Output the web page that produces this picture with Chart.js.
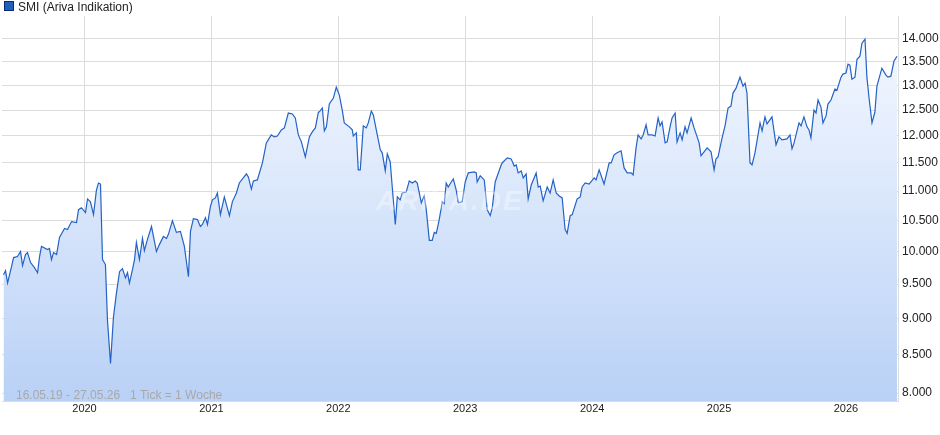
<!DOCTYPE html>
<html>
<head>
<meta charset="utf-8">
<script src="https://cdn.jsdelivr.net/npm/chart.js@4/dist/chart.umd.min.js"></script>
<style>
  body { margin: 0; background: #fff; }
  #wrap { position: relative; width: 940px; height: 435px; }
  #legend { position: absolute; left: 4px; top: 0px; font: 12px Arial, "Liberation Sans", sans-serif; color: #222; }
  #legend span { display: inline-block; width: 8px; height: 8px; background: #1f5fc4; border: 1px solid #0b2c66; margin-right: 4px; vertical-align: -0px; }
  #note { position: absolute; left: 16px; top: 388px; font: 12px Arial, "Liberation Sans", sans-serif; color: #a8a8a8; }
  #mark { position: absolute; left: 376px; top: 185px; font: italic bold 28px Arial, sans-serif; color: rgba(255,255,255,0.35); letter-spacing: 2px; }
</style>
</head>
<body>
<div id="wrap">
  <canvas id="c" width="940" height="435"></canvas>
  <div id="legend"><span></span>SMI (Ariva Indikation)</div>
  <div id="mark">ARIVA.DE</div>
  <div id="note">16.05.19 - 27.05.26 &nbsp;&nbsp;1 Tick = 1 Woche</div>
</div>
<script>
// Time (decimal years) and SMI level
const times = [
  2019.362, 2019.378, 2019.394, 2019.425, 2019.441, 2019.472, 2019.496, 2019.512, 2019.535, 2019.551,
  2019.575, 2019.606, 2019.630, 2019.646, 2019.661, 2019.709, 2019.724, 2019.740, 2019.756, 2019.780,
  2019.803, 2019.843, 2019.866, 2019.898, 2019.937, 2019.953, 2019.976, 2020.008, 2020.024, 2020.047,
  2020.071, 2020.094, 2020.110, 2020.126, 2020.142, 2020.165, 2020.181, 2020.205, 2020.228, 2020.252,
  2020.276, 2020.299, 2020.323, 2020.339, 2020.354, 2020.378, 2020.394, 2020.409, 2020.433, 2020.457,
  2020.472, 2020.496, 2020.528, 2020.567, 2020.591, 2020.622, 2020.646, 2020.661, 2020.693, 2020.724,
  2020.756, 2020.787, 2020.819, 2020.835, 2020.858, 2020.890, 2020.913, 2020.929, 2020.953, 2020.969,
  2020.992, 2021.008, 2021.031, 2021.047, 2021.071, 2021.102, 2021.142, 2021.165, 2021.197, 2021.220,
  2021.276, 2021.291, 2021.315, 2021.331, 2021.362, 2021.402, 2021.433, 2021.472, 2021.496, 2021.520,
  2021.551, 2021.575, 2021.606, 2021.638, 2021.661, 2021.685, 2021.709, 2021.740, 2021.772, 2021.795,
  2021.819, 2021.843, 2021.850, 2021.874, 2021.890, 2021.906, 2021.929, 2021.961, 2021.984, 2022.008,
  2022.031, 2022.047, 2022.087, 2022.110, 2022.118, 2022.142, 2022.157, 2022.173, 2022.197, 2022.220,
  2022.236, 2022.260, 2022.276, 2022.307, 2022.331, 2022.346, 2022.370, 2022.386, 2022.409, 2022.425,
  2022.449, 2022.465, 2022.488, 2022.504, 2022.535, 2022.559, 2022.583, 2022.606, 2022.622, 2022.654,
  2022.677, 2022.693, 2022.717, 2022.740, 2022.756, 2022.772, 2022.795, 2022.819, 2022.835, 2022.850,
  2022.866, 2022.890, 2022.906, 2022.929, 2022.945, 2022.976, 2023.000, 2023.024, 2023.071, 2023.087,
  2023.094, 2023.118, 2023.150, 2023.173, 2023.197, 2023.213, 2023.236, 2023.283, 2023.291, 2023.331,
  2023.362, 2023.386, 2023.402, 2023.417, 2023.441, 2023.457, 2023.480, 2023.496, 2023.520, 2023.559,
  2023.575, 2023.591, 2023.614, 2023.646, 2023.669, 2023.693, 2023.717, 2023.740, 2023.764, 2023.787,
  2023.803, 2023.827, 2023.843, 2023.882, 2023.906, 2023.921, 2023.945, 2023.976, 2024.016, 2024.031,
  2024.055, 2024.094, 2024.134, 2024.150, 2024.173, 2024.197, 2024.228, 2024.252, 2024.276, 2024.307,
  2024.323, 2024.346, 2024.362, 2024.386, 2024.402, 2024.425, 2024.441, 2024.472, 2024.496, 2024.520,
  2024.535, 2024.551, 2024.575, 2024.591, 2024.614, 2024.630, 2024.654, 2024.669, 2024.693, 2024.709,
  2024.732, 2024.748, 2024.780, 2024.803, 2024.843, 2024.858, 2024.882, 2024.906, 2024.937, 2024.961,
  2024.976, 2024.992, 2025.024, 2025.047, 2025.071, 2025.094, 2025.110, 2025.134, 2025.165, 2025.189,
  2025.205, 2025.220, 2025.244, 2025.260, 2025.283, 2025.323, 2025.339, 2025.362, 2025.378, 2025.417,
  2025.449, 2025.472, 2025.496, 2025.535, 2025.559, 2025.575, 2025.591, 2025.630, 2025.646, 2025.669,
  2025.693, 2025.709, 2025.724, 2025.748, 2025.764, 2025.780, 2025.803, 2025.819, 2025.843, 2025.858,
  2025.882, 2025.913, 2025.929, 2025.961, 2025.976, 2026.000, 2026.016, 2026.031, 2026.047, 2026.071,
  2026.087, 2026.110, 2026.126, 2026.150, 2026.165, 2026.181, 2026.205, 2026.228, 2026.244, 2026.283,
  2026.315, 2026.331, 2026.354, 2026.378, 2026.402
];
const smi = [
  9641, 9704, 9516, 9766, 9906, 9922, 10000, 9782, 9953, 9984,
  9828, 9750, 9672, 9922, 10081, 10032, 10048, 9875, 9984, 9953,
  10226, 10371, 10355, 10484, 10468, 10683, 10716, 10633, 10866, 10816,
  10600, 11017, 11142, 11124, 9875, 9797, 8973, 8381, 9015, 9368,
  9688, 9734, 9594, 9672, 9516, 9719, 9875, 10146, 9875, 10210,
  10016, 10194, 10403, 10000, 10114, 10242, 10210, 10275, 10500, 10307,
  10323, 10081, 9610, 10323, 10533, 10517, 10403, 10436, 10549, 10436,
  10733, 10850, 10883, 10967, 10600, 10900, 10583, 10816, 10967, 11142,
  11303, 11250, 11035, 11178, 11196, 11500, 11870, 12020, 11982, 12000,
  12116, 12154, 12442, 12423, 12346, 12020, 11889, 11611, 11982, 12078,
  12154, 12462, 12462, 12540, 12097, 12174, 12620, 12740, 12960, 12800,
  12500, 12250, 12174, 12116, 12000, 12058, 11375, 11375, 12193, 12154,
  12250, 12481, 12404, 12020, 11741, 11685, 11357, 11667, 11518, 11072,
  10436, 10900, 10850, 10967, 10983, 11178, 11142, 11178, 11142, 10800,
  10916, 10683, 10178, 10178, 10307, 10291, 10517, 10816, 10783, 11142,
  11072, 11160, 11214, 11017, 10800, 10816, 11160, 11321, 11339, 11321,
  11160, 11268, 11196, 10683, 10583, 10716, 11160, 11464, 11500, 11593,
  11574, 11444, 11464, 11321, 11357, 11232, 11303, 10866, 11107, 11321,
  11072, 11089, 10833, 11072, 10967, 11196, 10967, 10916, 10883, 10355,
  10291, 10583, 10600, 10866, 10900, 11072, 11142, 11124, 11232, 11196,
  11375, 11124, 11500, 11500, 11648, 11685, 11722, 11410, 11321, 11321,
  11285, 11778, 12020, 11945, 12020, 12212, 12020, 12020, 12000, 12346,
  12193, 12270, 11870, 11889, 12174, 12346, 12442, 11889, 12058, 11926,
  12174, 12058, 12346, 12154, 11870, 11630, 11704, 11778, 11704, 11375,
  11574, 11611, 11963, 12193, 12540, 12580, 12840, 12940, 13166, 12980,
  13042, 12840, 11500, 11464, 11685, 12250, 12097, 12366, 12231, 12366,
  11834, 11982, 11926, 11945, 12020, 11760, 11870, 12250, 12193, 12366,
  12174, 12116, 11963, 12500, 12442, 12700, 12560, 12250, 12385, 12620,
  12700, 12920, 12900, 13166, 13230, 13250, 13438, 13417, 13125, 13166,
  13543, 13609, 13891, 13978, 13166, 12760, 12250, 12462, 12980, 13354,
  13208, 13166, 13187, 13500, 13609
];
const yTicks = [8000, 8500, 9000, 9500, 10000, 10500, 11000, 11500, 12000, 12500, 13000, 13500, 14000];
const xTicks = [2020, 2021, 2022, 2023, 2024, 2025, 2026];

const fmt = v => String(v).replace(/\B(?=(\d{3})+(?!\d))/g, '.');

const points = times.map((t, i) => ({ x: t, y: smi[i] }));

new Chart(document.getElementById('c'), {
  type: 'line',
  data: {
    datasets: [{
      data: points,
      borderColor: '#2462c6',
      borderWidth: 1.2,
      pointRadius: 0,
      tension: 0,
      fill: 'start',
      backgroundColor: function(context) {
        const area = context.chart.chartArea;
        if (!area) return 'rgba(190,210,245,0.5)';
        const g = context.chart.ctx.createLinearGradient(0, area.top, 0, area.bottom);
        g.addColorStop(0, '#f7faff');
        g.addColorStop(1, '#b9d1f6');
        return g;
      }
    }]
  },
  options: {
    responsive: false,
    animation: false,
    layout: { padding: { left: 2, top: 16, right: 0, bottom: 12 } },
    plugins: { legend: { display: false }, tooltip: { enabled: false } },
    scales: {
      x: {
        type: 'linear',
        min: 2019.35,
        max: 2026.41,
        afterBuildTicks: axis => { axis.ticks = xTicks.map(v => ({ value: v })); },
        afterFit: axis => { axis.height = 22; },
        ticks: { color: '#222', font: { size: 11, family: 'Arial, "Liberation Sans"' }, padding: 1, callback: v => String(v) },
        grid: { color: '#dcdcdc', drawTicks: false },
        border: { color: '#dcdcdc' }
      },
      y: {
        type: 'logarithmic',
        position: 'right',
        min: 7900,
        max: 14500,
        afterBuildTicks: axis => { axis.ticks = yTicks.map(v => ({ value: v })); },
        afterFit: axis => { axis.width = 42; },
        ticks: { color: '#222', font: { size: 12, family: 'Arial, "Liberation Sans"' }, padding: 4, callback: v => fmt(v) },
        grid: { color: '#dcdcdc', drawTicks: false },
        border: { color: '#dcdcdc' }
      }
    }
  }
});
</script>
</body>
</html>
